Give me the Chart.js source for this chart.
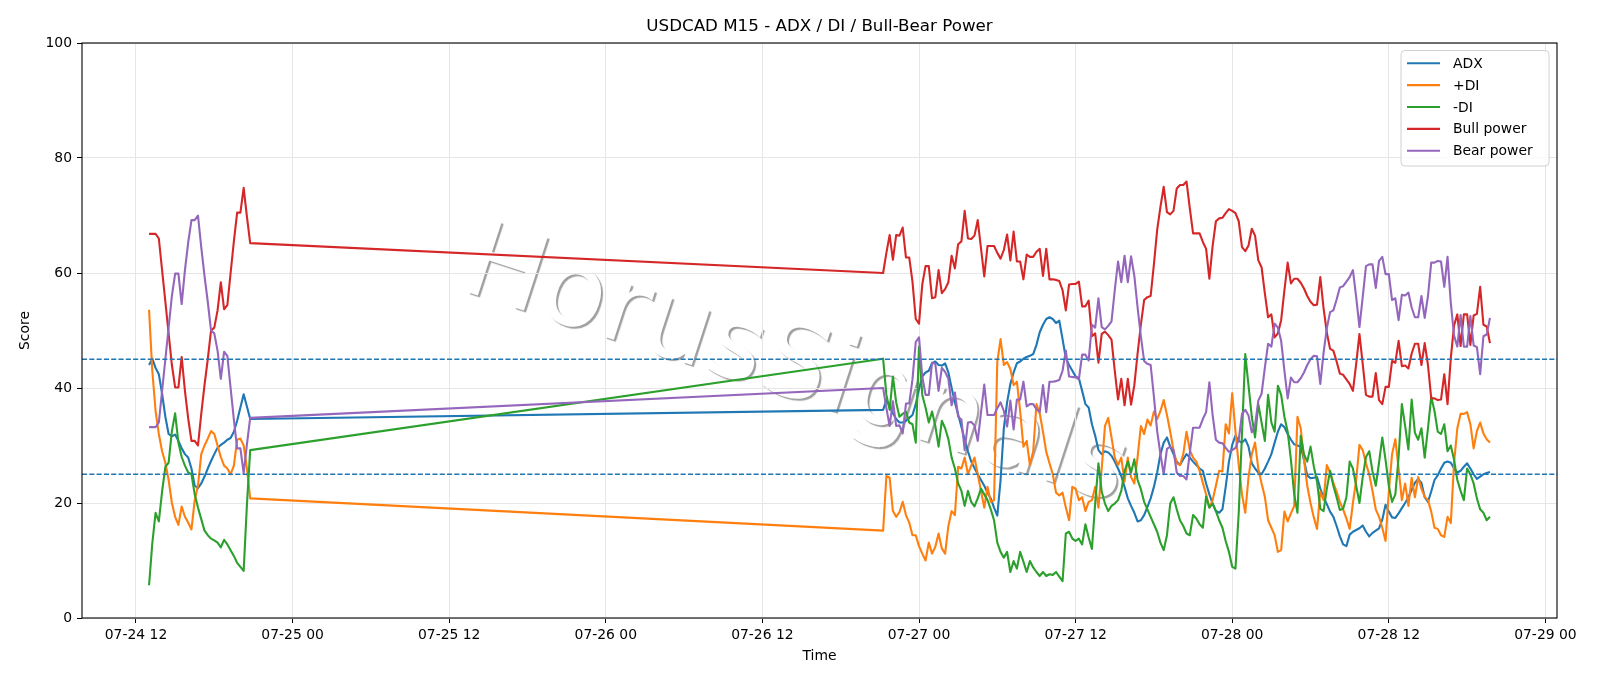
<!DOCTYPE html>
<html>
<head>
<meta charset="utf-8">
<title>USDCAD M15 - ADX / DI / Bull-Bear Power</title>
<script src="https://cdn.jsdelivr.net/npm/chart.js@4.4.1/dist/chart.umd.min.js"></script>
<style>
  html, body { margin: 0; padding: 0; background: #fff; }
  canvas { display: block; }
</style>
</head>
<body>
<canvas id="chart" width="1600" height="686"></canvas>
<script>
// M15 bars, hours counted from 07-24 00:00. Two sessions, weekend gap in between.
const sessionStart = [13.0, 69.25];
const sessionBars = [32, 187];

const tickHours = [12, 24, 36, 48, 60, 72, 84, 96, 108, 120];
const tickLabels = ['07-24 12', '07-25 00', '07-25 12', '07-26 00', '07-26 12',
                    '07-27 00', '07-27 12', '07-28 00', '07-28 12', '07-29 00'];
const yTicks = [0, 20, 40, 60, 80, 100];
const levels = [25, 45];

const adx = [
  44.0, 45.1, 43.5, 42.4, 39.0, 35.0, 32.0, 31.6, 31.9, 30.8, 29.5, 28.5, 27.9, 26.0, 23.0, 22.6,
  23.4, 24.6, 26.0, 27.3, 28.5, 29.6, 30.1, 30.5, 31.0, 31.3, 32.4, 34.3, 36.6, 38.9, 36.8, 34.6,
  36.2, 37.9, 36.8, 35.6, 34.6, 34.0, 34.0, 34.3, 34.8, 35.3, 37.2, 39.8, 42.0, 42.7, 43.0, 44.3,
  44.6, 44.0, 43.9, 44.3, 42.7, 40.0, 37.5, 35.4, 33.2, 31.0, 29.0, 27.2, 26.1, 25.0, 24.0, 23.0,
  21.8, 20.8, 19.2, 17.8, 24.0,
  33.0, 37.5, 40.7, 42.7, 44.3, 44.6, 45.1, 45.4, 45.6, 45.9, 47.5, 49.7, 51.0, 52.0, 52.3, 52.0,
  51.3, 51.7, 48.5, 45.2, 44.0, 43.0, 42.0, 41.7, 39.5, 37.2, 36.6, 33.7, 31.7, 29.2, 28.5, 29.0,
  28.8, 28.2, 27.2, 26.0, 24.7, 22.8, 20.8, 19.5, 18.3, 16.8,
  17.0, 17.9, 19.3, 20.8, 22.8, 25.3, 28.5, 30.5, 31.4, 29.8, 28.5, 27.2, 26.6, 27.6, 28.5, 27.9,
  27.2, 26.6, 26.0, 25.6, 23.4, 21.5, 19.9, 18.6, 18.3, 18.9, 22.8, 27.2, 30.1, 31.7, 30.8, 30.5,
  31.1, 29.8, 26.9, 26.0, 25.3, 25.0, 26.0, 27.2, 28.5, 30.5, 32.4,
  33.7, 33.2, 32.0, 31.0, 30.2, 30.0, 29.8, 27.5, 24.8, 24.3, 24.4, 24.5, 22.5, 21.0, 19.8, 18.5,
  17.6, 16.0, 14.2, 12.8, 12.5, 14.5, 15.0, 15.3, 15.6, 16.1, 15.0, 14.2, 14.8, 15.2, 15.6, 17.1,
  19.7, 18.5, 17.5, 17.4, 18.2, 19.1, 20.0, 21.0, 22.3, 23.5, 24.2,
  23.5, 21.0, 20.2, 22.0, 24.0, 24.8, 26.0, 27.0, 27.2, 27.0, 26.0, 25.3, 25.6, 26.3, 26.9, 26.0,
  25.0, 24.2, 24.6, 25.0, 25.2, 25.4
];

const plusDI = [
  53.6, 43.0, 36.0, 32.0, 29.0, 27.0, 24.0, 20.0, 17.6, 16.2, 19.4, 17.6, 16.6, 15.4, 20.5, 23.0,
  28.5, 30.0, 31.2, 32.5, 32.0, 30.0, 28.0, 26.5, 26.0, 25.0, 26.5, 31.0, 31.2, 30.0, 26.0, 20.8,
  15.2, 24.7, 24.4, 18.6, 17.6, 18.4, 20.2, 17.9, 16.6, 14.4, 14.4, 12.5, 11.2, 10.0, 13.1, 11.2,
  12.4, 14.7, 12.1, 11.2, 16.0, 18.6, 17.9, 26.3, 26.0, 27.9, 25.0, 26.5, 27.9, 25.0, 22.1, 19.2,
  22.8, 20.2, 20.5, 44.6, 48.5,
  44.0, 44.5, 43.3, 40.5, 41.1, 36.0, 29.8, 30.8, 26.6, 29.0, 37.2, 35.6, 32.4, 28.9, 26.9, 25.0,
  21.8, 21.3, 21.8, 19.2, 17.0, 22.8, 22.5, 20.5, 21.0, 18.6, 20.2, 20.5, 22.8, 19.2, 26.0, 33.4,
  34.8, 31.4, 27.9, 26.6, 27.9, 23.7, 27.9, 24.5, 23.4, 28.0,
  33.4, 32.0, 34.5, 33.5, 35.9, 34.6, 36.0, 37.9, 35.3, 32.4, 29.2, 26.9, 26.6, 28.5, 32.4, 29.2,
  27.9, 27.2, 25.6, 23.5, 21.5, 19.2, 20.5, 23.0, 25.6, 25.5, 33.7, 32.1, 39.1, 32.4, 26.6, 21.5,
  18.3, 24.5, 28.5, 30.5, 26.0, 23.4, 21.1, 17.0, 15.7, 14.4, 11.5,
  11.8, 18.5, 16.8, 18.2, 19.5, 35.0, 33.0, 27.5, 23.0, 20.0, 17.5, 15.5, 22.0, 20.5, 26.6, 25.3,
  23.5, 22.0, 20.2, 18.9, 17.3, 15.5, 20.0, 24.0, 30.1, 29.2, 26.9, 25.0, 22.1, 18.9, 17.6, 15.7,
  13.4, 22.0, 28.5, 31.1, 26.0, 20.5, 23.4, 19.5, 24.4, 21.0, 24.5,
  22.5, 21.1, 20.5, 18.5, 15.7, 15.5, 14.4, 14.1, 17.6, 16.5, 27.0, 33.0, 35.5, 35.5, 35.8, 33.7,
  29.5, 32.5, 34.0, 32.1, 31.1, 30.5
];

const minusDI = [
  5.7, 13.0, 18.3, 16.8, 22.0, 26.3, 27.0, 32.5, 35.6, 30.5, 28.0, 26.5, 25.3, 25.0, 21.5, 19.2,
  17.2, 15.2, 14.4, 13.8, 13.5, 13.1, 12.3, 13.6, 12.8, 11.8, 10.8, 9.6, 8.9, 8.2, 19.7, 29.2,
  45.1, 38.8, 36.2, 42.0, 37.5, 35.0, 35.5, 35.9, 34.0, 33.7, 30.5, 47.2, 38.8, 36.6, 34.0, 35.9,
  33.4, 29.8, 34.3, 33.0, 31.1, 27.9, 26.0, 23.4, 22.1, 19.5, 22.1, 20.2, 19.4, 20.8, 22.5, 21.5,
  20.5, 18.9, 17.0, 13.1, 11.5,
  10.5, 11.5, 8.0, 9.9, 8.6, 11.5, 9.8, 8.0, 9.9, 8.8, 8.0, 7.3, 8.0, 7.3, 7.6, 7.5,
  8.0, 7.2, 6.4, 14.7, 15.0, 13.8, 13.4, 13.8, 12.8, 16.3, 14.0, 12.0, 20.0, 26.9, 22.0, 19.9,
  18.6, 19.5, 19.9, 20.5, 22.1, 25.5, 27.2, 25.3, 27.6, 24.0,
  22.4, 20.2, 18.9, 17.6, 16.3, 15.0, 13.1, 11.8, 14.4, 19.9, 21.0, 18.9, 17.0, 16.0, 14.7, 14.4,
  17.9, 17.3, 16.3, 15.7, 21.1, 19.2, 19.9, 18.6, 17.0, 15.7, 13.4, 11.5, 8.9, 8.6, 18.3, 32.1,
  45.9, 40.4, 35.0, 31.4, 37.2, 34.0, 30.8, 38.8, 34.0, 32.4, 40.4,
  38.8, 35.0, 32.4, 27.5, 21.5, 18.3, 31.7, 28.5, 27.2, 29.8, 26.4, 23.7, 19.0, 18.6, 22.5, 25.6,
  23.0, 21.0, 18.8, 19.0, 21.0, 27.2, 26.0, 23.0, 20.0, 24.5, 28.0, 29.0, 25.5, 23.0, 27.0, 31.4,
  27.5, 23.0, 20.2, 21.5, 28.0, 37.2, 33.4, 29.3, 38.0, 32.2, 31.0,
  33.0, 27.9, 33.0, 38.5, 36.0, 32.4, 32.0, 33.7, 29.0, 30.0, 27.5, 24.0, 22.1, 20.5, 26.0, 25.0,
  23.4, 20.8, 18.9, 18.3, 17.0, 17.6
];

const bullPower = [
  66.8, 66.8, 66.8, 66.0, 60.5, 55.0, 49.5, 44.0, 40.1, 40.1, 45.4, 39.5, 34.7, 30.8, 30.8, 30.0,
  35.5, 40.5, 45.0, 50.0, 50.5, 53.5, 58.4, 53.7, 54.4, 60.0, 65.5, 70.5, 70.5, 74.8, 69.8, 65.2,
  60.0, 63.5, 66.6, 62.3, 66.6, 66.5, 67.9, 62.7, 62.7, 58.5, 52.0, 51.2, 58.0, 61.2, 61.2, 55.6,
  55.8, 60.5, 56.5, 57.2, 58.4, 63.0, 60.8, 65.0, 65.5, 70.8, 66.0, 65.9, 66.5, 69.2, 64.3, 59.4,
  64.7, 64.7, 64.7, 63.5, 62.5,
  64.0, 66.7, 62.2, 67.2, 62.0, 62.0, 58.9, 63.2, 62.8, 62.8, 63.7, 64.2, 59.5, 64.2, 58.9, 58.9,
  58.8, 58.6, 57.0, 53.5, 58.0, 58.1, 58.1, 58.5, 54.2, 54.2, 55.2, 49.0, 49.5, 44.4, 49.4, 49.8,
  49.2, 48.4, 43.0, 38.0, 41.6, 37.0, 41.6, 37.1, 40.5, 46.0,
  51.0, 55.3, 55.8, 56.0, 61.5, 67.5, 71.5, 75.0, 70.6, 70.2, 70.8, 74.7, 75.3, 75.3, 75.9, 71.3,
  66.9, 66.9, 66.9, 65.4, 64.2, 59.0, 64.7, 69.0, 69.5, 69.6, 70.4, 71.1, 70.8, 70.4, 69.0, 64.5,
  63.8, 64.8, 67.7, 66.5, 62.2, 61.0, 56.5, 52.3, 52.8, 48.8, 49.5,
  51.8, 57.0, 61.8, 58.2, 59.0, 59.0, 58.3, 57.3, 56.0, 55.0, 54.4, 54.5, 59.3, 53.9, 49.6, 46.8,
  46.5, 44.6, 42.5, 42.3, 41.5, 40.7, 39.5, 44.2, 49.4, 44.2, 38.8, 38.5, 38.5, 42.6, 37.9, 37.2,
  40.2, 40.2, 44.7, 44.4, 48.2, 43.8, 43.9, 43.4, 46.0, 47.7, 47.7,
  44.0, 47.8, 44.0, 38.2, 38.2, 37.9, 38.0, 42.4, 37.2, 45.2, 50.9, 52.8, 47.3, 52.8, 52.8, 47.5,
  52.6, 52.9, 57.6, 51.0, 50.7, 47.8
];

const bearPower = [
  33.2, 33.2, 33.2, 34.0, 39.5, 45.0, 50.5, 56.0, 59.9, 59.9, 54.6, 60.5, 65.3, 69.2, 69.2, 70.0,
  64.5, 59.5, 55.0, 50.0, 49.5, 46.5, 41.6, 46.3, 45.6, 40.0, 34.5, 29.5, 29.5, 25.2, 30.2, 34.8,
  40.0, 36.5, 33.4, 37.7, 33.4, 33.5, 32.1, 37.3, 37.3, 41.5, 48.0, 48.8, 42.0, 38.8, 38.8, 44.4,
  44.2, 39.5, 43.5, 42.8, 41.6, 37.0, 39.2, 35.0, 34.5, 29.2, 34.0, 34.1, 33.5, 30.8, 35.7, 40.6,
  35.3, 35.3, 35.3, 36.5, 37.5,
  36.0, 33.3, 37.8, 32.8, 38.0, 38.0, 41.1, 36.8, 37.2, 37.2, 36.3, 35.8, 40.5, 35.8, 41.1, 41.1,
  41.2, 41.4, 43.0, 46.5, 42.0, 41.9, 41.9, 41.5, 45.8, 45.8, 44.8, 51.0, 50.5, 55.6, 50.6, 50.2,
  50.8, 51.6, 57.0, 62.0, 58.4, 63.0, 58.4, 62.9, 59.5, 54.0,
  49.0, 44.7, 44.2, 44.0, 38.5, 32.5, 28.5, 25.0, 29.4, 29.8, 29.2, 25.3, 24.7, 24.7, 24.1, 28.7,
  33.1, 33.1, 33.1, 34.6, 35.8, 41.0, 35.3, 31.0, 30.5, 30.4, 29.6, 28.9, 29.2, 29.6, 31.0, 35.5,
  36.2, 35.2, 32.3, 33.5, 37.8, 39.0, 43.5, 47.7, 47.2, 51.2, 50.5,
  48.2, 43.0, 38.2, 41.8, 41.0, 41.0, 41.7, 42.7, 44.0, 45.0, 45.6, 45.5, 40.7, 46.1, 50.4, 53.2,
  53.5, 55.4, 57.5, 57.7, 58.5, 59.3, 60.5, 55.8, 50.6, 55.8, 61.2, 61.5, 61.5, 57.4, 62.1, 62.8,
  59.8, 59.8, 55.3, 55.6, 51.8, 56.2, 56.1, 56.6, 54.0, 52.3, 52.3,
  56.0, 52.2, 56.0, 61.8, 61.8, 62.1, 62.0, 57.6, 62.8, 54.8, 49.1, 47.2, 52.7, 47.2, 47.2, 52.5,
  47.4, 47.1, 42.4, 49.0, 49.3, 52.2
];

// bar times
const barHours = [];
sessionStart.forEach((start, s) => {
  for (let k = 0; k < sessionBars[s]; k++) barHours.push(start + k * 0.25);
});

const span = barHours[barHours.length - 1] - barHours[0];
const xMin = barHours[0] - 0.05 * span;
const xMax = barHours[barHours.length - 1] + 0.05 * span;

const FONT = "'DejaVu Sans', 'Liberation Sans', sans-serif";

function series(label, values, color, order) {
  return {
    label: label,
    data: values.map((v, k) => ({ x: barHours[k], y: v })),
    borderColor: color,
    backgroundColor: color,
    borderWidth: 2.1,
    pointRadius: 0,
    fill: false,
    tension: 0,
    borderJoinStyle: 'round',
    order: order
  };
}

const frame = {
  id: 'frame',
  beforeDraw(chart) {
    // watermark: white letters, only the soft grey shadow edge shows
    const ctx = chart.ctx;
    ctx.save();
    ctx.translate(458, 289);
    ctx.rotate(18 * Math.PI / 180);
    ctx.font = '106px ' + FONT;
    ctx.textAlign = 'left';
    ctx.textBaseline = 'alphabetic';
    ctx.shadowColor = 'rgba(0, 0, 0, 0.38)';
    ctx.shadowOffsetX = 2;
    ctx.shadowOffsetY = 2;
    ctx.shadowBlur = 1;
    ctx.fillStyle = '#ffffff';
    ctx.fillText('HorusSignals', 0, 0);
    ctx.restore();
  },
  afterDatasetsDraw(chart) {
    const ctx = chart.ctx;
    const a = chart.chartArea;
    const y = chart.scales.y;
    ctx.save();
    ctx.beginPath();
    ctx.rect(a.left, a.top, a.right - a.left, a.bottom - a.top);
    ctx.clip();
    ctx.strokeStyle = '#1f77b4';
    ctx.lineWidth = 1.4;
    ctx.setLineDash([5.1, 2.2]);
    levels.forEach(v => {
      const py = y.getPixelForValue(v);
      ctx.beginPath();
      ctx.moveTo(a.left, py);
      ctx.lineTo(a.right, py);
      ctx.stroke();
    });
    ctx.restore();
  },
  afterDraw(chart) {
    const ctx = chart.ctx;
    const a = chart.chartArea;
    ctx.save();
    // spines
    ctx.strokeStyle = '#000';
    ctx.lineWidth = 1.1;
    ctx.strokeRect(a.left, a.top, a.right - a.left, a.bottom - a.top);

    // title and axis labels
    ctx.fillStyle = '#000';
    ctx.textAlign = 'center';
    ctx.textBaseline = 'middle';
    ctx.font = '16.7px ' + FONT;
    ctx.fillText('USDCAD M15 - ADX / DI / Bull-Bear Power', (a.left + a.right) / 2, 27);
    ctx.font = '13.9px ' + FONT;
    ctx.fillText('Time', (a.left + a.right) / 2, 656);
    ctx.save();
    ctx.translate(25, (a.top + a.bottom) / 2);
    ctx.rotate(-Math.PI / 2);
    ctx.fillText('Score', 0, 0);
    ctx.restore();

    // legend
    const bx = 1401, by = 50.5, bw = 148, bh = 115.5;
    ctx.beginPath();
    ctx.roundRect(bx, by, bw, bh, 4);
    ctx.fillStyle = 'rgba(255, 255, 255, 0.8)';
    ctx.fill();
    ctx.strokeStyle = '#d0d0d0';
    ctx.lineWidth = 1;
    ctx.stroke();
    ctx.textAlign = 'left';
    ctx.font = '13.9px ' + FONT;
    chart.data.datasets.forEach((ds, k) => {
      const ry = 63.3 + k * 21.85;
      ctx.strokeStyle = ds.borderColor;
      ctx.lineWidth = 2.1;
      ctx.beginPath();
      ctx.moveTo(1407, ry);
      ctx.lineTo(1440, ry);
      ctx.stroke();
      ctx.fillStyle = '#000';
      ctx.fillText(ds.label, 1453, ry + 1);
    });
    ctx.restore();
  }
};

new Chart(document.getElementById('chart'), {
  type: 'line',
  data: {
    datasets: [
      series('ADX', adx, '#1f77b4', 4),
      series('+DI', plusDI, '#ff7f0e', 3),
      series('-DI', minusDI, '#2ca02c', 2),
      series('Bull power', bullPower, '#d62728', 1),
      series('Bear power', bearPower, '#9467bd', 0)
    ]
  },
  options: {
    responsive: false,
    animation: false,
    events: [],
    layout: { padding: { top: 43, right: 43, left: 0, bottom: 0 } },
    plugins: {
      legend: { display: false },
      title: { display: false },
      tooltip: { enabled: false }
    },
    scales: {
      x: {
        type: 'linear',
        min: xMin,
        max: xMax,
        afterBuildTicks: s => { s.ticks = tickHours.map(v => ({ value: v })); },
        afterFit: s => { s.height = 68; },
        grid: { color: '#e6e6e6', lineWidth: 1, tickColor: '#000', tickLength: 5 },
        border: { display: false },
        ticks: {
          autoSkip: false,
          maxRotation: 0,
          padding: 4,
          color: '#000',
          font: { family: FONT, size: 13.9 },
          callback: (v) => tickLabels[tickHours.indexOf(v)]
        }
      },
      y: {
        min: 0,
        max: 100,
        afterBuildTicks: s => { s.ticks = yTicks.map(v => ({ value: v })); },
        afterFit: s => { s.width = 82; },
        grid: { color: '#e6e6e6', lineWidth: 1, tickColor: '#000', tickLength: 5 },
        border: { display: false },
        ticks: {
          padding: 5,
          color: '#000',
          font: { family: FONT, size: 13.9 }
        }
      }
    }
  },
  plugins: [frame]
});
</script>
</body>
</html>
